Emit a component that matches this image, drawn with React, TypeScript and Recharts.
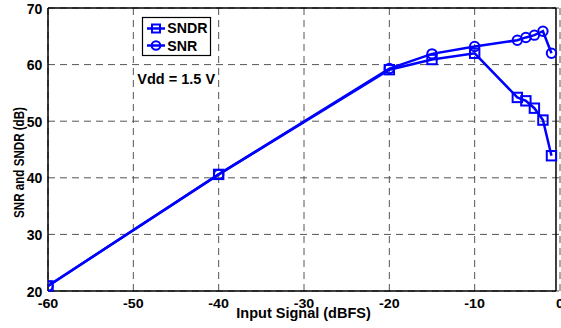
import React from 'react';
import { LineChart, Line, XAxis, YAxis, CartesianGrid, ReferenceLine } from 'recharts';

const inputSignal = [-60, -40, -20, -15, -10, -5, -4, -3, -2, -1];
const sndrValues = [20.9, 40.6, 59.1, 60.9, 62.0, 54.2, 53.6, 52.3, 50.2, 43.9];
const snrValues = [20.9, 40.6, 59.3, 61.9, 63.2, 64.3, 64.8, 65.2, 65.9, 62.0];
const xTicks = [-60, -50, -40, -30, -20, -10, 0];
const yTicks = [20, 30, 40, 50, 60, 70];

const data = inputSignal.map((x, i) => ({ x, sndr: sndrValues[i], snr: snrValues[i] }));

const FONT = '"Liberation Sans", Arial, sans-serif';
const BLUE = '#0000ff';

const XTick = (props: any) => {
  const { x, y, payload } = props;
  return (
    <text transform={`translate(${x},${y + 15}) scale(1,0.85)`} textAnchor="middle" fontFamily={FONT} fontWeight="bold" fontSize={14.3} fill="#000">
      {payload.value}
    </text>
  );
};

const YTick = (props: any) => {
  const { x, y, payload } = props;
  return (
    <text transform={`translate(${x - 3.7},${y + 5.5})`} textAnchor="end" fontFamily={FONT} fontWeight="bold" fontSize={14} fill="#000">
      {payload.value}
    </text>
  );
};

const Square = (props: any) => {
  const { cx, cy } = props;
  if (cx == null || cy == null) return null;
  return <rect x={cx - 4.7} y={cy - 4.7} width={9.4} height={9.4} fill="none" stroke={BLUE} strokeWidth={2} />;
};

const Circle = (props: any) => {
  const { cx, cy } = props;
  if (cx == null || cy == null) return null;
  return <circle cx={cx} cy={cy} r={4.7} fill="none" stroke={BLUE} strokeWidth={2} />;
};

const RIGHT = -0.47;

export default function App() {
  return (
    <div style={{ position: 'absolute', left: 0, top: 0, width: 561, height: 328, background: '#fff' }}>
      <LineChart width={561} height={328} data={data} margin={{ top: 8, right: 1, bottom: 0, left: 0 }}>
        <CartesianGrid stroke="#555" strokeDasharray="7 5" strokeWidth={1} />
        <XAxis
          dataKey="x"
          type="number"
          domain={[-60, 0]}
          ticks={xTicks}
          axisLine={false}
          tickLine={false}
          tickSize={0}
          tick={<XTick />}
          height={37}
          interval={0}
          allowDataOverflow
        />
        <YAxis
          type="number"
          domain={[20, 70]}
          ticks={yTicks}
          axisLine={false}
          tickLine={false}
          tickSize={0}
          tick={<YTick />}
          width={48}
          interval={0}
        />
        <ReferenceLine segment={[{ x: -60, y: 20 }, { x: RIGHT, y: 20 }]} stroke="#000" strokeWidth={1.5} />
        <ReferenceLine segment={[{ x: -60, y: 70 }, { x: RIGHT, y: 70 }]} stroke="#000" strokeWidth={1.5} />
        <ReferenceLine segment={[{ x: -60, y: 20 }, { x: -60, y: 70 }]} stroke="#000" strokeWidth={1.5} />
        <ReferenceLine segment={[{ x: RIGHT, y: 20 }, { x: RIGHT, y: 70 }]} stroke="#000" strokeWidth={1.5} />
        <Line dataKey="sndr" stroke={BLUE} strokeWidth={2.5} dot={<Square />} isAnimationActive={false} />
        <Line dataKey="snr" stroke={BLUE} strokeWidth={2.5} dot={<Circle />} isAnimationActive={false} />
      </LineChart>

      <svg width={561} height={328} style={{ position: 'absolute', left: 0, top: 0, pointerEvents: 'none' }}>
        <rect x={142.5} y={17.5} width={68} height={38} fill="#fff" stroke="#000" strokeWidth={1.2} />
        <line x1={147} y1={28.5} x2={165} y2={28.5} stroke={BLUE} strokeWidth={2.5} />
        <rect x={152} y={24.5} width={8} height={8} fill="none" stroke={BLUE} strokeWidth={2} />
        <line x1={147} y1={45.5} x2={165} y2={45.5} stroke={BLUE} strokeWidth={2.5} />
        <circle cx={156} cy={45.5} r={4.3} fill="none" stroke={BLUE} strokeWidth={2} />
        <text x={167.3} y={33.3} fontFamily={FONT} fontWeight="bold" fontSize={14.2} fill="#000">SNDR</text>
        <text x={167.3} y={50.7} fontFamily={FONT} fontWeight="bold" fontSize={14.2} fill="#000">SNR</text>

        <text x={137.3} y={84} fontFamily={FONT} fontWeight="bold" fontSize={14.5} fill="#000">Vdd = 1.5 V</text>

        <text x={236.3} y={318} fontFamily={FONT} fontWeight="bold" fontSize={14.5} fill="#000">Input Signal (dBFS)</text>

        <text transform="translate(23.5,162.5) scale(1,0.8) rotate(-90)" textAnchor="middle" fontFamily={FONT} fontWeight="bold" fontSize={14.5} fill="#000">
          SNR and SNDR (dB)
        </text>
      </svg>
    </div>
  );
}
